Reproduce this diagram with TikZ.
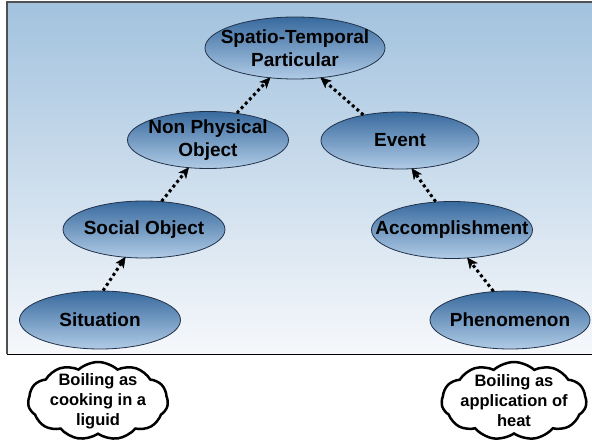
\documentclass[tikz,border=0pt]{standalone}
\usepackage{fontspec}
\setmainfont{Liberation Sans}
\usetikzlibrary{shapes.geometric,shapes.symbols,arrows.meta}
\definecolor{panelTop}{HTML}{A2C2DE}
\definecolor{panelBot}{HTML}{F6F8FB}
\definecolor{panelLine}{HTML}{505050}
\definecolor{ellTop}{HTML}{386A9E}
\definecolor{ellBot}{HTML}{B0CBE6}
\definecolor{ellLine}{HTML}{22324A}
\tikzset{
  concept/.style={ellipse, draw=ellLine, line width=0.8pt, top color=ellTop, bottom color=ellBot,
    inner sep=0pt, label={[align=center, font=\bfseries\fontsize{19}{23}\selectfont, text=black]center:#1}},
  isa/.style={line width=3pt, dash pattern=on 3pt off 3pt, black,
    -{Stealth[length=11pt,width=10pt,inset=3pt,line width=0.5pt]}, shorten >=-1pt},
  thought/.style={cloud, draw=black, line width=2.5pt, fill=white, cloud puffs=11,
    cloud puff arc=85, cloud ignores aspect, inner sep=0pt},
  cloudtext/.style={align=center, font=\bfseries\fontsize{16.5}{20}\selectfont}
}
\begin{document}
\begin{tikzpicture}[x=1pt,y=-1pt]
\useasboundingbox (0,0) rectangle (592,441);
\fill[white] (0,0) rectangle (592,441);
\shade[top color=panelTop, bottom color=panelBot] (7,2) rectangle (596,354);
\draw[panelLine, line width=1.8pt] (596,2) -- (7,2) -- (7,354);
\draw[black, line width=1pt] (7,354) -- (596,354);

\node[concept={Spatio-Temporal\\Particular}, minimum width=180, minimum height=62] (stp) at (295,48) {};
\node[concept={Non Physical\\Object}, minimum width=161, minimum height=57] (npo) at (208,140) {};
\node[concept={Social Object}, minimum width=162, minimum height=57] (soc) at (144,229.5) {};
\node[concept={Situation}, minimum width=161, minimum height=58] (sit) at (100,320) {};
\node[concept={Event}, minimum width=158, minimum height=57] (evt) at (400,140.5) {};
\node[concept={Accomplishment}, minimum width=161, minimum height=57] (acc) at (452,230) {};
\node[concept={Phenomenon}, minimum width=160, minimum height=58] (phe) at (510,320) {};

\draw[isa] (sit.84) -- (soc.-124);
\draw[isa] (soc.58) -- (npo.-125);
\draw[isa] (npo.43) -- (stp.-130);
\draw[isa] (evt.145) -- (stp.-49);
\draw[isa] (acc.120) -- (evt.-67);
\draw[isa] (phe.120) -- (acc.-61);

\node[thought, minimum width=140, minimum height=78] (c1) at (98,401) {};
\node[cloudtext] (t1) at (c1.center) {Boiling as\\cooking in a\\liguid};
\node[thought, minimum width=145, minimum height=78] (c2) at (514,401) {};
\node[cloudtext] (t2) at (c2.center) {Boiling as\\application of\\heat};
\end{tikzpicture}
\end{document}
